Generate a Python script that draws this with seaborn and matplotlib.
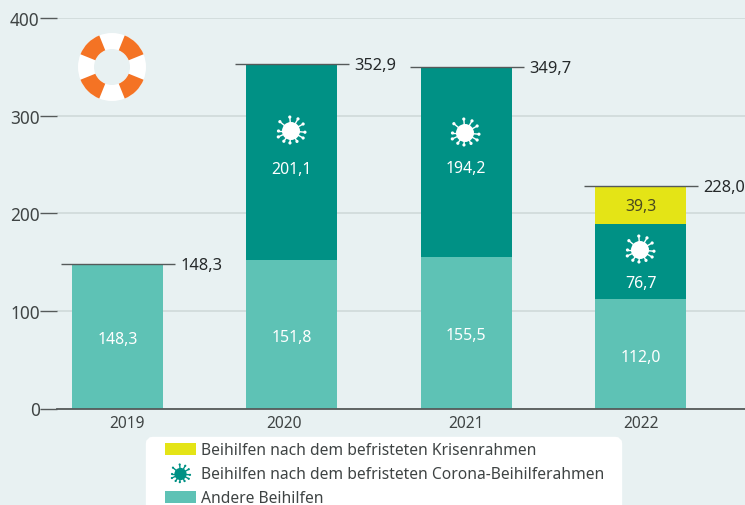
import math
import matplotlib
matplotlib.use("Agg")
import matplotlib.pyplot as plt
import seaborn as sns
from matplotlib.patches import Circle, Wedge, Rectangle, FancyBboxPatch

# Daten
jahre = ["2019", "2020", "2021", "2022"]
andere = [148.3, 151.8, 155.5, 112.0]
corona = [0, 201.1, 194.2, 76.7]
krise = [0, 0, 0, 39.3]
gesamt = [148.3, 352.9, 349.7, 228.0]
y_ticks = [0, 100, 200, 300, 400]
legende = ["Beihilfen nach dem befristeten Krisenrahmen",
           "Beihilfen nach dem befristeten Corona-Beihilferahmen",
           "Andere Beihilfen"]

HELL = "#5EC2B5"
DUNKEL = "#009185"
GELB = "#E4E416"
ORANGE = "#F47324"
BG = "#E8F1F2"
TEXT = "#3F4444"

sns.set_theme(style="white")
plt.rcParams["font.family"] = ["Noto Sans", "DejaVu Sans"]
plt.rcParams["font.size"] = 11.4

fig = plt.figure(figsize=(7.45, 5.06), dpi=100, facecolor=BG)
ax = fig.add_axes([57 / 745, 96.5 / 506, 688 / 745, 390.5 / 506], facecolor=BG)

# gestapelte Balken
boden2 = [a + c for a, c in zip(andere, corona)]
balken = dict(width=0.522, saturation=1, linewidth=0, ax=ax, zorder=3)
sns.barplot(x=jahre, y=andere, color=HELL, **balken)
sns.barplot(x=jahre, y=corona, bottom=andere, color=DUNKEL, **balken)
sns.barplot(x=jahre, y=krise, bottom=boden2, color=GELB, **balken)

ax.set_xlim(-0.347, 3.598)
ax.set_ylim(0, 400)
ax.set_yticks(y_ticks)
ax.set_xlabel("")
ax.set_ylabel("")
ax.grid(axis="y", color="#D3DDDD", lw=1.4, zorder=0)
ax.set_axisbelow(True)
sns.despine(ax=ax, left=True, top=True, right=True)
ax.spines["bottom"].set_color("#555A5A")
ax.spines["bottom"].set_linewidth(1.3)
ax.spines["bottom"].set_zorder(6)
ax.tick_params(axis="y", left=True, length=12.2, width=1, color="#555A5A", pad=0.3, labelsize=12.4, labelcolor=TEXT)
ax.tick_params(axis="x", bottom=False, labelbottom=False)


def wert(v):
    return f"{v:.1f}".replace(".", ",")


# Jahreszahlen sitzen nicht ganz mittig
x_versatz = [7, -6, 0, 0]
for i, j in enumerate(jahre):
    ax.annotate(j, (i, 0), xytext=(x_versatz[i], -10.5), textcoords="offset points",
                ha="center", va="center", color=TEXT, fontsize=11.2)

# Summenlinien
for i, g in enumerate(gesamt):
    ax.hlines(g, i - 0.324, i + 0.33, color="#555A5A", lw=1, zorder=4)
    ax.annotate(wert(g), (i + 0.33, g), xytext=(3.8, -0.8),
                textcoords="offset points", ha="left", va="center",
                color="#25292A", fontsize=11.8, annotation_clip=False)

# Segmentwerte
for i, v in enumerate(andere):
    ax.annotate(wert(v), (i, v / 2), xytext=(0, -2), textcoords="offset points",
                ha="center", va="center", color="white", zorder=5)
corona_versatz = [0, -5, -4.5, -15.5]
for i, v in enumerate(corona):
    if v:
        ax.annotate(wert(v), (i, andere[i] + v / 2), xytext=(0, corona_versatz[i]),
                    textcoords="offset points", ha="center", va="center", color="white", zorder=5)
ax.annotate(wert(krise[3]), (3, boden2[3] + krise[3] / 2), xytext=(0, -1), textcoords="offset points",
            ha="center", va="center", color="#4A4A20", zorder=5)

# Overlay in Pixelkoordinaten fuer Symbole und Legende
ov = fig.add_axes([0, 0, 1, 1], facecolor="none")
ov.set_xlim(0, 745)
ov.set_ylim(506, 0)
ov.axis("off")
ov.set_zorder(10)

# Rettungsring
ring_x, ring_y = 112, 68
ov.add_patch(Wedge((ring_x, ring_y), 34, 0, 360, width=16, fc="white", ec="none"))
for start in [22, 112, 202, 292]:
    ov.add_patch(Wedge((ring_x, ring_y), 34, start, start + 46, width=16, fc=ORANGE, ec="none"))


# Virus-Symbol
def virus(x, y, farbe, fak=1.0):
    ov.add_patch(Circle((x, y), 9 * fak, fc=farbe, ec="none"))
    for w, l in [(95, 14), (60, 14), (30, 14), (-5, 14), (-30, 14), (-60, 12), (-95, 12),
                 (-125, 12.5), (-155, 14), (180, 12.5), (140, 14.5)]:
        dx = math.cos(math.radians(w)) * l * fak
        dy = -math.sin(math.radians(w)) * l * fak
        ov.plot([x, x + dx], [y, y + dy], color=farbe, lw=1, solid_capstyle="round")
        ov.add_patch(Circle((x + dx, y + dy), 1.6 * fak, fc=farbe, ec="none"))


virus(291, 132, "white")
virus(465, 134, "white")
virus(640, 251, "white")

# Legende
ov.add_patch(FancyBboxPatch((150, 442), 468, 70, boxstyle="round,pad=0,rounding_size=3",
                            fc="white", ec="white", lw=6))
ov.add_patch(Rectangle((165, 444), 31, 12, fc=GELB, ec="none"))
virus(180.5, 475, DUNKEL, 0.68)
ov.add_patch(Rectangle((165, 492), 31, 12, fc=HELL, ec="none"))
for y, t in zip([451, 475, 499], legende):
    ov.text(201, y, t, ha="left", va="center", color=TEXT, fontsize=11.25)

fig.savefig("out.png", dpi=100, facecolor=BG)
